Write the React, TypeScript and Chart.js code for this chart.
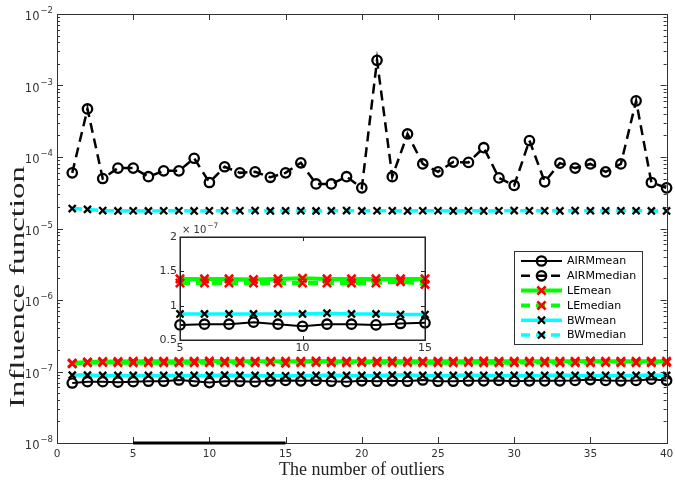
import React, { useEffect, useRef } from "react";
import { Chart, registerables } from "chart.js";
Chart.register(...registerables);

// number of outliers (x categories)
const outliers = [1,2,3,4,5,6,7,8,9,10,11,12,13,14,15,16,17,18,19,20,21,22,23,24,25,26,27,28,29,30,31,32,33,34,35,36,37,38,39,40];

// AIRM median (absolute values)
const airmMedian = [6.0e-5,4.7e-4,5.0e-5,7.0e-5,7.0e-5,5.3e-5,6.4e-5,6.4e-5,9.6e-5,4.4e-5,7.3e-5,6.0e-5,6.2e-5,5.2e-5,6.0e-5,8.3e-5,4.2e-5,4.2e-5,5.3e-5,3.7e-5,2.25e-3,5.3e-5,2.1e-4,8.0e-5,6.2e-5,8.5e-5,8.4e-5,1.35e-4,5.1e-5,4.0e-5,1.7e-4,4.5e-5,8.2e-5,7.0e-5,8.0e-5,6.2e-5,8.0e-5,6.1e-4,4.4e-5,3.7e-5];
// BW median (x 1e-5)
const bwMedianE5 = [1.9,1.85,1.78,1.76,1.77,1.76,1.77,1.77,1.76,1.77,1.77,1.77,1.78,1.76,1.77,1.77,1.76,1.77,1.78,1.76,1.77,1.77,1.76,1.77,1.77,1.76,1.77,1.76,1.77,1.78,1.77,1.77,1.76,1.78,1.77,1.77,1.77,1.77,1.76,1.76];
// low series (x 1e-7)
const airmMeanE7 = [0.69,0.72,0.72,0.71,0.72,0.73,0.73,0.76,0.73,0.70,0.73,0.73,0.72,0.74,0.75,0.74,0.75,0.73,0.72,0.74,0.73,0.74,0.73,0.76,0.73,0.73,0.74,0.74,0.75,0.73,0.74,0.74,0.74,0.75,0.77,0.75,0.74,0.75,0.78,0.75];
const leMeanE7 = [1.31,1.36,1.38,1.38,1.39,1.39,1.39,1.38,1.39,1.40,1.39,1.39,1.39,1.39,1.39,1.39,1.40,1.39,1.39,1.39,1.39,1.40,1.39,1.39,1.39,1.39,1.39,1.40,1.39,1.39,1.39,1.39,1.39,1.39,1.40,1.39,1.39,1.39,1.39,1.39];
const leMedianE7 = [1.28,1.33,1.34,1.33,1.33,1.33,1.33,1.33,1.33,1.33,1.33,1.33,1.33,1.35,1.31,1.33,1.34,1.33,1.33,1.34,1.33,1.33,1.34,1.33,1.33,1.33,1.34,1.33,1.33,1.33,1.34,1.33,1.33,1.33,1.33,1.34,1.33,1.33,1.33,1.34];
const bwMeanE7 = [0.89,0.89,0.88,0.88,0.88,0.88,0.88,0.88,0.88,0.88,0.89,0.88,0.88,0.87,0.87,0.88,0.88,0.89,0.88,0.88,0.88,0.89,0.89,0.88,0.88,0.88,0.89,0.88,0.88,0.88,0.88,0.88,0.89,0.88,0.88,0.88,0.88,0.88,0.89,0.88];

const seriesNames = ["AIRMmean","AIRMmedian","LEmean","LEmedian","BWmean","BWmedian"];
const xTicks = [0,5,10,15,20,25,30,35,40];
const yDecades = [-8,-7,-6,-5,-4,-3,-2];
const insetXTicks = [5,10,15];
const insetYTicks = [0.5,1,1.5,2];
const insetYLabels = ["0.5","1","1.5","2"];
const zoomRange = [5,15];

const GREEN = "#00ff00";
const CYAN = "#00ffff";
const RED = "#ff0000";
const AX = "#333333";
const TICKFONT = "'DejaVu Sans', sans-serif";

type Style = { color: string; width: number; dash: number[]; marker: string; mcolor: string; mr: number; mw: number };
const styles: Style[] = [
  { color: "#000", width: 2, dash: [], marker: "circle", mcolor: "#000", mr: 4.7, mw: 2.3 },
  { color: "#000", width: 2.5, dash: [10, 6], marker: "circle", mcolor: "#000", mr: 4.7, mw: 2.3 },
  { color: GREEN, width: 4, dash: [], marker: "crossRot", mcolor: RED, mr: 5.8, mw: 2.6 },
  { color: GREEN, width: 4, dash: [10, 6], marker: "crossRot", mcolor: RED, mr: 5.8, mw: 2.6 },
  { color: CYAN, width: 3.5, dash: [], marker: "crossRot", mcolor: "#000", mr: 5, mw: 2.3 },
  { color: CYAN, width: 3.5, dash: [10, 6], marker: "crossRot", mcolor: "#000", mr: 5, mw: 2.3 },
];

function mkDataset(i: number, data: { x: number; y: number }[]) {
  const s = styles[i];
  return {
    label: seriesNames[i],
    data,
    borderColor: s.color,
    borderWidth: s.width,
    borderDash: s.dash,
    pointStyle: s.marker,
    pointRadius: s.mr,
    pointBorderColor: s.mcolor,
    pointBackgroundColor: "rgba(0,0,0,0)",
    pointBorderWidth: s.mw,
    tension: 0,
    fill: false,
    clip: false as any,
    order: 10 - i,
  };
}

function drawMarker(ctx: CanvasRenderingContext2D, s: Style, x: number, y: number) {
  ctx.save();
  ctx.setLineDash([]);
  ctx.strokeStyle = s.mcolor;
  ctx.lineWidth = s.mw;
  ctx.beginPath();
  if (s.marker === "circle") {
    ctx.arc(x, y, s.mr, 0, Math.PI * 2);
  } else {
    const d = s.mr * Math.SQRT1_2;
    ctx.moveTo(x - d, y - d); ctx.lineTo(x + d, y + d);
    ctx.moveTo(x + d, y - d); ctx.lineTo(x - d, y + d);
  }
  ctx.stroke();
  ctx.restore();
}

const mainPlugin = {
  id: "mainDecor",
  afterDraw(chart: any) {
    const ctx: CanvasRenderingContext2D = chart.ctx;
    const { left, right, top, bottom } = chart.chartArea;
    const xs = chart.scales.x;
    const ys = chart.scales.y;
    ctx.save();
    ctx.strokeStyle = AX;
    ctx.lineWidth = 1;
    ctx.setLineDash([]);
    ctx.strokeRect(Math.round(left) + 0.5, Math.round(top) + 0.5, Math.round(right - left), Math.round(bottom - top));
    // x ticks
    ctx.beginPath();
    for (const t of xTicks) {
      const px = Math.round(xs.getPixelForValue(t)) + 0.5;
      ctx.moveTo(px, bottom); ctx.lineTo(px, bottom - 6);
      ctx.moveTo(px, top); ctx.lineTo(px, top + 6);
    }
    // y ticks
    for (let k = 0; k < yDecades.length; k++) {
      const d = yDecades[k];
      const py = Math.round(ys.getPixelForValue(Math.pow(10, d))) + 0.5;
      ctx.moveTo(left, py); ctx.lineTo(left + 6, py);
      ctx.moveTo(right, py); ctx.lineTo(right - 6, py);
      if (k < yDecades.length - 1) {
        for (let m = 2; m <= 9; m++) {
          const pm = Math.round(ys.getPixelForValue(m * Math.pow(10, d))) + 0.5;
          ctx.moveTo(left, pm); ctx.lineTo(left + 3, pm);
          ctx.moveTo(right, pm); ctx.lineTo(right - 3, pm);
        }
      }
    }
    ctx.stroke();
    // x labels
    ctx.fillStyle = AX;
    ctx.font = `10.5px ${TICKFONT}`;
    ctx.textAlign = "center";
    ctx.textBaseline = "middle";
    for (const t of xTicks) {
      ctx.fillText(String(t), xs.getPixelForValue(t), bottom + 11);
    }
    // y labels
    for (const d of yDecades) {
      const py = ys.getPixelForValue(Math.pow(10, d));
      ctx.font = `8.5px ${TICKFONT}`;
      const sup = "\u2212" + String(-d);
      const sw = ctx.measureText(sup).width;
      ctx.textAlign = "left";
      ctx.textBaseline = "alphabetic";
      ctx.fillText(sup, left - 4 - sw, py - 1);
      ctx.font = `11.5px ${TICKFONT}`;
      ctx.textAlign = "right";
      ctx.fillText("10", left - 5 - sw, py + 6);
    }
    // zoom range marker
    ctx.strokeStyle = "#000";
    ctx.lineWidth = 3;
    ctx.beginPath();
    ctx.moveTo(xs.getPixelForValue(zoomRange[0]), bottom);
    ctx.lineTo(xs.getPixelForValue(zoomRange[1]), bottom);
    ctx.stroke();
    // axis titles
    ctx.fillStyle = "#222";
    ctx.font = "18px 'Liberation Serif', serif";
    ctx.textAlign = "center";
    ctx.textBaseline = "alphabetic";
    ctx.fillText("The number of outliers", (left + right) / 2, 475);
    ctx.save();
    ctx.translate(24, 287);
    ctx.rotate(-Math.PI / 2);
    ctx.font = "22px 'Liberation Serif', serif";
    const yl = "Influence function";
    const w = ctx.measureText(yl).width;
    ctx.scale(242 / w, 1);
    ctx.fillText(yl, 0, 0);
    ctx.restore();
    // legend
    const lx = 514, ly = 251, lw = 128, lh = 93;
    ctx.fillStyle = "#fff";
    ctx.fillRect(lx, ly, lw, lh);
    ctx.strokeStyle = AX;
    ctx.lineWidth = 1;
    ctx.strokeRect(lx + 0.5, ly + 0.5, lw, lh);
    ctx.font = `11px ${TICKFONT}`;
    ctx.textAlign = "left";
    ctx.textBaseline = "middle";
    for (let i = 0; i < seriesNames.length; i++) {
      const s = styles[i];
      const ry = 261 + i * 14.8;
      ctx.save();
      ctx.strokeStyle = s.color;
      ctx.lineWidth = s.width;
      ctx.setLineDash(s.dash.length ? [9, 6] : []);
      ctx.beginPath();
      ctx.moveTo(521, ry); ctx.lineTo(562, ry);
      ctx.stroke();
      ctx.restore();
      drawMarker(ctx, s, 541.5, ry);
      ctx.fillStyle = "#000";
      ctx.fillText(seriesNames[i], 567, ry + 0.5);
    }
    ctx.restore();
  },
};

const insetPlugin = {
  id: "insetDecor",
  beforeDatasetsDraw(chart: any) {
    const ctx: CanvasRenderingContext2D = chart.ctx;
    const { left, right, top, bottom } = chart.chartArea;
    ctx.save();
    ctx.fillStyle = "#fff";
    ctx.fillRect(left, top, right - left, bottom - top);
    ctx.restore();
  },
  afterDraw(chart: any) {
    const ctx: CanvasRenderingContext2D = chart.ctx;
    const { left, right, top, bottom } = chart.chartArea;
    const xs = chart.scales.x;
    const ys = chart.scales.y;
    ctx.save();
    ctx.strokeStyle = "#222";
    ctx.lineWidth = 1.5;
    ctx.strokeRect(Math.round(left) + 0.25, Math.round(top) + 0.25, Math.round(right - left), Math.round(bottom - top));
    ctx.lineWidth = 1;
    ctx.beginPath();
    for (const t of insetXTicks) {
      const px = Math.round(xs.getPixelForValue(t)) + 0.5;
      ctx.moveTo(px, bottom); ctx.lineTo(px, bottom - 4);
      ctx.moveTo(px, top); ctx.lineTo(px, top + 4);
    }
    for (const t of insetYTicks) {
      const py = Math.round(ys.getPixelForValue(t)) + 0.5;
      ctx.moveTo(left, py); ctx.lineTo(left + 4, py);
      ctx.moveTo(right, py); ctx.lineTo(right - 4, py);
    }
    ctx.stroke();
    ctx.fillStyle = AX;
    ctx.font = `11px ${TICKFONT}`;
    ctx.textAlign = "center";
    ctx.textBaseline = "middle";
    for (const t of insetXTicks) {
      ctx.fillText(String(t), xs.getPixelForValue(t), bottom + 8);
    }
    ctx.textAlign = "right";
    for (let i = 0; i < insetYTicks.length; i++) {
      ctx.fillText(insetYLabels[i], left - 3, ys.getPixelForValue(insetYTicks[i]));
    }
    // exponent label
    ctx.textAlign = "left";
    ctx.textBaseline = "alphabetic";
    ctx.font = `10px ${TICKFONT}`;
    ctx.fillText("\u00d7 10", left + 2, top - 4);
    const w = ctx.measureText("\u00d7 10").width;
    ctx.font = `7.5px ${TICKFONT}`;
    ctx.fillText("\u22127", left + 3 + w, top - 9);
    ctx.restore();
  },
};

export default function App() {
  const mainRef = useRef<HTMLCanvasElement>(null);
  const insetRef = useRef<HTMLCanvasElement>(null);

  useEffect(() => {
    const pts = (arr: number[], mult: number) => arr.map((v, i) => ({ x: outliers[i], y: v * mult }));
    const mainSeries = [
      pts(airmMeanE7, 1e-7),
      pts(airmMedian, 1),
      pts(leMeanE7, 1e-7),
      pts(leMedianE7, 1e-7),
      pts(bwMeanE7, 1e-7),
      pts(bwMedianE5, 1e-5),
    ];
    const main = new Chart(mainRef.current!, {
      type: "line",
      data: { datasets: mainSeries.map((d, i) => mkDataset(i, d)) as any },
      options: {
        responsive: false,
        animation: false,
        events: [],
        layout: { padding: { left: 57, right: 5, top: 14, bottom: 38 } },
        scales: {
          x: { type: "linear", min: 0, max: 40, display: false },
          y: { type: "logarithmic", min: 1e-8, max: 1e-2, display: false },
        },
        plugins: { legend: { display: false }, tooltip: { enabled: false } },
      },
      plugins: [mainPlugin],
    });

    const inRange = (arr: number[]) =>
      arr
        .map((v, i) => ({ x: outliers[i], y: v }))
        .filter((p) => p.x >= zoomRange[0] && p.x <= zoomRange[1]);
    const insetSets = [
      mkDataset(0, inRange(airmMeanE7)),
      mkDataset(2, inRange(leMeanE7)),
      mkDataset(3, inRange(leMedianE7)),
      mkDataset(4, inRange(bwMeanE7)),
    ];
    const inset = new Chart(insetRef.current!, {
      type: "line",
      data: { datasets: insetSets as any },
      options: {
        responsive: false,
        animation: false,
        events: [],
        layout: { padding: { left: 30, right: 15, top: 27, bottom: 20 } },
        scales: {
          x: { type: "linear", min: zoomRange[0], max: zoomRange[1], display: false },
          y: { type: "linear", min: 0.5, max: 2, display: false },
        },
        plugins: { legend: { display: false }, tooltip: { enabled: false } },
      },
      plugins: [insetPlugin],
    });
    return () => {
      main.destroy();
      inset.destroy();
    };
  }, []);

  return (
    <div style={{ position: "absolute", left: 0, top: 0, width: 675, height: 481, background: "#fff" }}>
      <canvas ref={mainRef} width={675} height={481} style={{ position: "absolute", left: 0, top: 0 }} />
      <canvas ref={insetRef} width={290} height={150} style={{ position: "absolute", left: 150, top: 210 }} />
    </div>
  );
}
